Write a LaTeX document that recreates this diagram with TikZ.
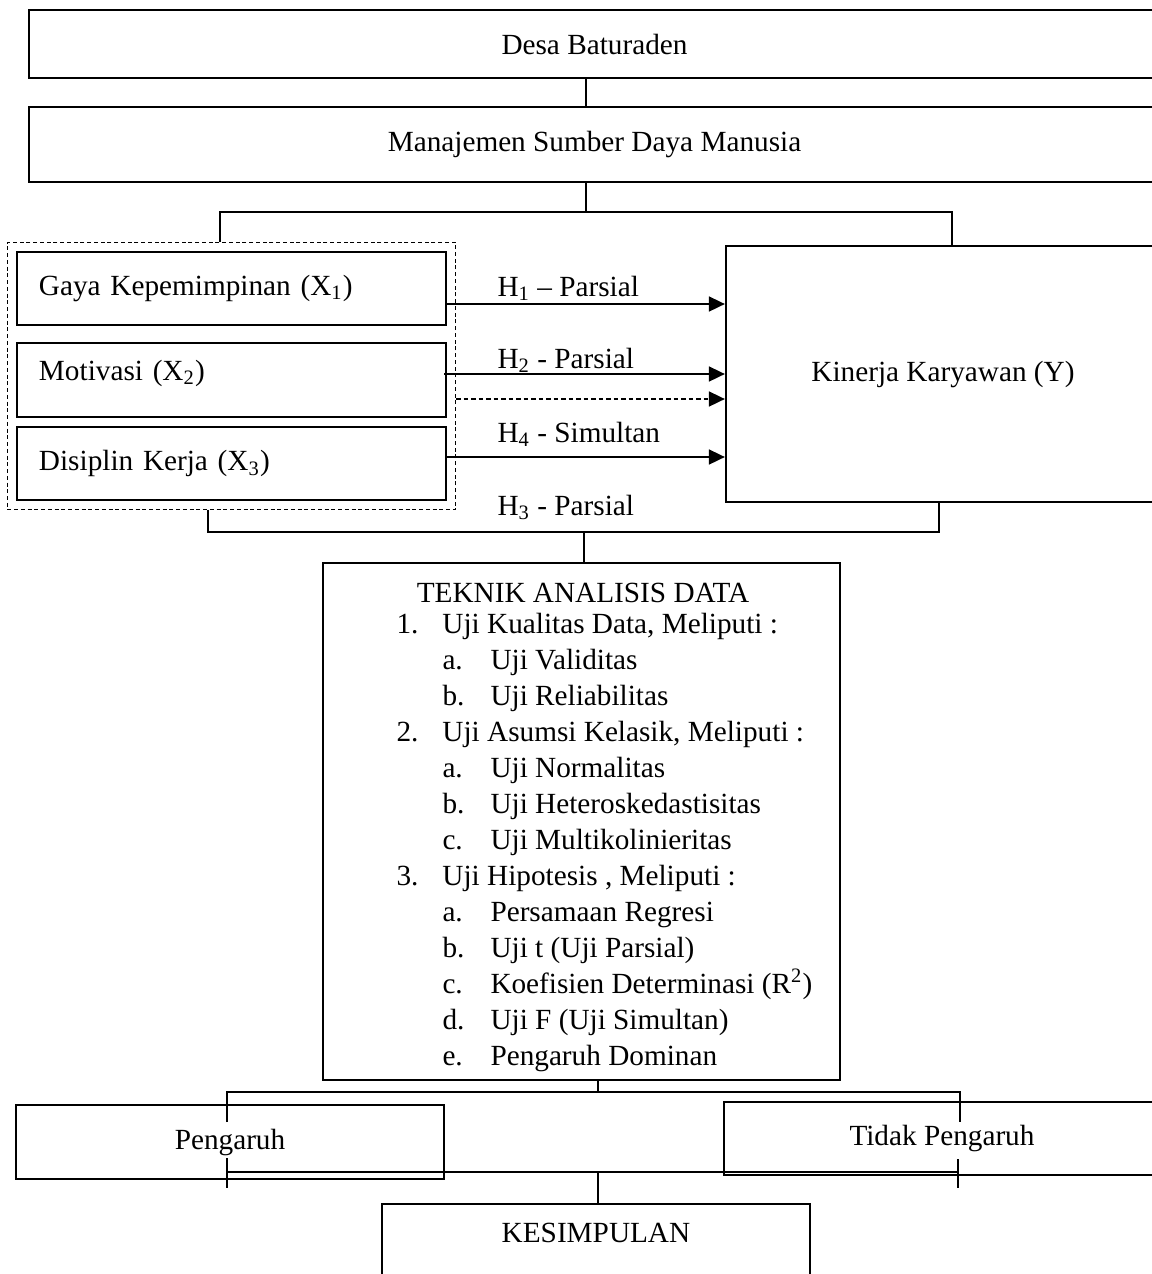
\documentclass[tikz,border=0pt]{standalone}
\usepackage{fontspec}
\setmainfont{Liberation Serif}
\usepackage{tikz}
\usetikzlibrary{arrows.meta, positioning, fit}

\begin{document}
\begin{tikzpicture}[
		x=0.4pt, y=-0.4pt,
		every node/.style={
			inner sep=0pt,
			font=\fontsize{11.7pt}{14.4pt}\selectfont
		},
		kotak/.style={draw, line width=0.9pt, align=center},
		kotakKiri/.style={kotak, minimum width=171.6pt, text width=154pt, align=left},
		garis/.style={line width=0.7pt},
		panah/.style={-{Triangle[length=6.4pt, width=6pt]}, line width=0.7pt}
		]
		
		\useasboundingbox (0,0) rectangle (1152,1274);
		
		% bagian atas
		\node[kotak, minimum width=452.4pt, minimum height=27.2pt] (desa) at (594.5,44) {Desa Baturaden};
		\node[kotak, minimum width=452.4pt, minimum height=30pt] (msdm) at (594.5,144.5) {Manajemen Sumber Daya Manusia};
		
		% variabel X dan Y
		\node[kotakKiri, minimum height=29.2pt] (gaya) at (231.5,288.5) {Gaya Kepemimpinan (X\textsubscript{1})};
		\node[kotakKiri, minimum height=29.6pt, text height=8pt, text depth=8pt] (motivasi) at (231.5,380) {Motivasi (X\textsubscript{2})};
		\node[kotakKiri, minimum height=29.2pt] (disiplin) at (231.5,463.5) {Disiplin Kerja (X\textsubscript{3})};
		\node[draw, dash pattern=on 1.6pt off 1.1pt, line width=0.45pt, fit=(gaya)(disiplin), inner sep=3.4pt] (grup) {};
		\node[kotak, minimum width=173.6pt, minimum height=102.4pt] (kinerja) at (943,374) {Kinerja Karyawan (Y)};
		
		\node[anchor=base west] (h1) at (497,296) {H\textsubscript{1} – Parsial};
		\node[anchor=base west] (h2) at (497,368) {H\textsubscript{2} - Parsial};
		\node[anchor=base west] (h4) at (497,442) {H\textsubscript{4} - Simultan};
		\node[anchor=base west] (h3) at (497,515) {H\textsubscript{3} - Parsial};
		
		% teknik analisis
		\node[kotak, minimum width=206.8pt, minimum height=206.8pt] (teknik) at (581.5,821.5) {};
		\node[anchor=base] (judul) at (583,602) {TEKNIK ANALISIS DATA};
		\node[anchor=north west, align=left] (daftar) at (396,613) {%
			\makebox[18.4pt][l]{1.}Uji Kualitas Data, Meliputi :\\
			\hspace*{18.4pt}\makebox[19.2pt][l]{a.}Uji Validitas\\
			\hspace*{18.4pt}\makebox[19.2pt][l]{b.}Uji Reliabilitas\\
			\makebox[18.4pt][l]{2.}Uji Asumsi Kelasik, Meliputi :\\
			\hspace*{18.4pt}\makebox[19.2pt][l]{a.}Uji Normalitas\\
			\hspace*{18.4pt}\makebox[19.2pt][l]{b.}Uji Heteroskedastisitas\\
			\hspace*{18.4pt}\makebox[19.2pt][l]{c.}Uji Multikolinieritas\\
			\makebox[18.4pt][l]{3.}Uji Hipotesis , Meliputi :\\
			\hspace*{18.4pt}\makebox[19.2pt][l]{a.}Persamaan Regresi\\
			\hspace*{18.4pt}\makebox[19.2pt][l]{b.}Uji t (Uji Parsial)\\
			\hspace*{18.4pt}\makebox[19.2pt][l]{c.}Koefisien Determinasi (R\textsuperscript{2})\\
			\hspace*{18.4pt}\makebox[19.2pt][l]{d.}Uji F (Uji Simultan)\\
			\hspace*{18.4pt}\makebox[19.2pt][l]{e.}Pengaruh Dominan};
		
		% hasil
		\node[kotak, minimum width=171.2pt, minimum height=29.6pt] (pengaruh) at (230,1142) {Pengaruh};
		\node[kotak, minimum width=174.4pt, minimum height=29.2pt] (tidak) at (942,1138.5) {Tidak Pengaruh};
		\node[kotak, anchor=north, minimum width=171.2pt, text height=15.2pt, text depth=23.6pt] (kes) at (596,1203) {KESIMPULAN};
		
		% titik cabang
		\coordinate (pusat1) at (586,212);
		\coordinate (cabKiri) at (220,212);
		\coordinate (cabKanan) at (952,212);
		\coordinate (pusat2) at (584,532);
		\coordinate (h3Kiri) at (208,532);
		\coordinate (h3Kanan) at (939,532);
		\coordinate (pusat3) at (598,1092);
		\coordinate (ujungKiri) at (227,1122);
		\coordinate (ujungKanan) at (960,1122);
		\coordinate (pusat4) at (598,1172);
		\coordinate (gabKiri) at (227,1172);
		\coordinate (gabKanan) at (958,1172);
		\coordinate (stubKiriA) at (227,1158);
		\coordinate (stubKiriB) at (227,1188);
		\coordinate (stubKananA) at (958,1159);
		\coordinate (stubKananB) at (958,1188);
		
		\draw[garis] (desa.south -| pusat1) -- (msdm.north -| pusat1);
		\draw[garis] (msdm.south -| pusat1) -- (pusat1);
		\draw[garis] (grup.north -| cabKiri) |- (cabKanan) -- (kinerja.north -| cabKanan);
		
		\draw[panah] ([yshift=-6.2pt]gaya.east) -- ([yshift=-6.2pt]gaya.east -| kinerja.west);
		\draw[panah] ([yshift=2.4pt,xshift=-1.2pt]motivasi.east) -- ([yshift=2.4pt]motivasi.east -| kinerja.west);
		\draw[panah, dash pattern=on 1.9pt off 1.1pt] ([yshift=-9.2pt]grup.east) -- ([yshift=-9.2pt]grup.east -| kinerja.west);
		\draw[panah] ([yshift=2.6pt]disiplin.east) -- ([yshift=2.6pt]disiplin.east -| kinerja.west);
		
		\draw[garis] (grup.south -| h3Kiri) |- (h3Kanan) -- (kinerja.south -| h3Kanan);
		\draw[garis] (pusat2) -- (teknik.north -| pusat2);
		
		\draw[garis] (teknik.south -| pusat3) -- (pusat3);
		\draw[garis] (ujungKiri) |- (ujungKanan |- pusat3) -- (ujungKanan);
		\draw[garis] (gabKiri) -- (gabKanan);
		\draw[garis] (stubKiriA) -- (stubKiriB);
		\draw[garis] (stubKananA) -- (stubKananB);
		\draw[garis] (pusat4) -- (kes.north -| pusat4);
		
	\end{tikzpicture}
\end{document}
